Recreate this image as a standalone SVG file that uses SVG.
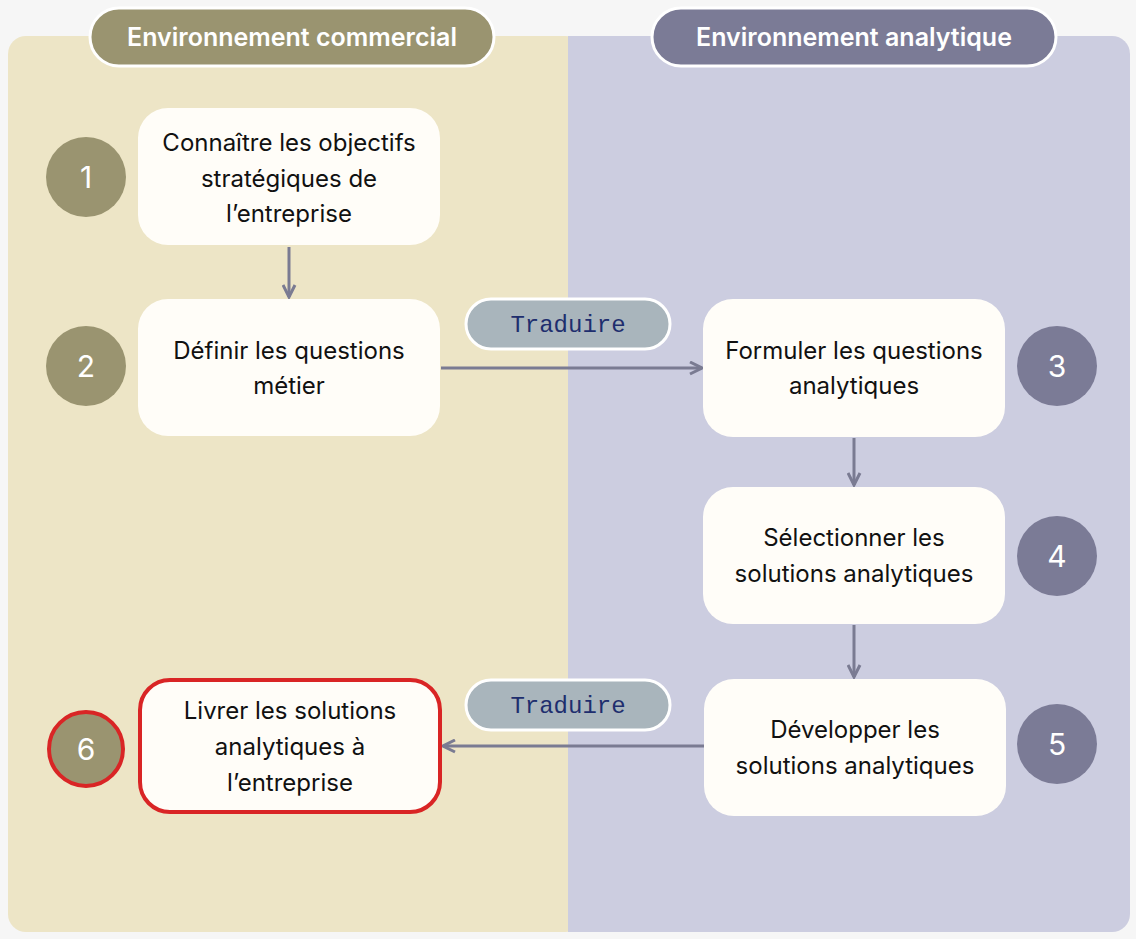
<svg xmlns="http://www.w3.org/2000/svg" width="1136" height="939" viewBox="0 0 1136 939">
<style>
.box{fill:#fffdf8}
.t{font-family:"Inter","Liberation Sans",sans-serif;font-size:24px;fill:#111;text-anchor:middle}
.h{font-family:"Inter","Liberation Sans",sans-serif;font-size:25px;font-weight:600;fill:#fff;text-anchor:middle}
.n{font-family:"Inter","Liberation Sans",sans-serif;font-size:30px;fill:#fff;text-anchor:middle}
.tr{fill:#a9b5bc;stroke:#fff;stroke-width:3}
.m{font-family:"Liberation Mono","DejaVu Sans Mono",monospace;font-size:24px;fill:#1e2e6e;text-anchor:middle}
.c{stroke:#7a7b92;stroke-width:3;fill:none;marker-end:url(#a)}
</style>
<defs><marker id="a" viewBox="0 0 10 10" refX="9" refY="5" markerWidth="5" markerHeight="5" orient="auto"><path d="M1 1L9 5L1 9" fill="none" stroke="#7a7b92" stroke-width="2"/></marker></defs>
<rect width="1136" height="939" fill="#f6f6f6"/>
<rect x="8" y="36" width="575" height="896" rx="18" fill="#ede5c6"/>
<rect x="568" y="36" width="562" height="896" rx="18" fill="#cccde0"/>
<rect x="568" y="36" width="20" height="896" fill="#cccde0"/>
<g id="hdr1"><rect x="90" y="8" width="404" height="58" rx="29" fill="#9a9470" stroke="#fff" stroke-width="3"/><text class="h" x="292" y="46">Environnement commercial</text></g>
<g id="hdr2"><rect x="652" y="8" width="404" height="58" rx="29" fill="#7b7b96" stroke="#fff" stroke-width="3"/><text class="h" x="854" y="46">Environnement analytique</text></g>
<g id="connectors">
<line class="c" x1="289" y1="247" x2="289" y2="297"/>
<line class="c" x1="441" y1="368" x2="702" y2="368"/>
<line class="c" x1="854" y1="438" x2="854" y2="485"/>
<line class="c" x1="854" y1="625" x2="854" y2="677"/>
<line class="c" x1="704" y1="746" x2="443" y2="746"/>
</g>
<g id="tr1"><rect class="tr" x="466" y="299" width="204" height="50" rx="25"/><text class="m" x="568" y="332">Traduire</text></g>
<g id="tr2"><rect class="tr" x="466" y="680" width="204" height="50" rx="25"/><text class="m" x="568" y="713">Traduire</text></g>
<g id="n1"><rect class="box" x="138" y="108" width="302" height="137" rx="30"/><text class="t" x="289" y="151">Connaître les objectifs</text><text class="t" x="289" y="187">stratégiques de</text><text class="t" x="289" y="222">l’entreprise</text><circle cx="86" cy="177" r="40" fill="#9a9470"/><text class="n" x="86" y="188">1</text></g>
<g id="n2"><rect class="box" x="138" y="299" width="302" height="137" rx="30"/><text class="t" x="289" y="359">Définir les questions</text><text class="t" x="289" y="394">métier</text><circle cx="86" cy="366" r="40" fill="#9a9470"/><text class="n" x="86" y="377">2</text></g>
<g id="n3"><rect class="box" x="703" y="299" width="302" height="138" rx="30"/><text class="t" x="854" y="359">Formuler les questions</text><text class="t" x="854" y="394">analytiques</text><circle cx="1057" cy="366" r="40" fill="#7b7b96"/><text class="n" x="1057" y="377">3</text></g>
<g id="n4"><rect class="box" x="703" y="487" width="302" height="137" rx="30"/><text class="t" x="854" y="546">Sélectionner les</text><text class="t" x="854" y="582">solutions analytiques</text><circle cx="1057" cy="556" r="40" fill="#7b7b96"/><text class="n" x="1057" y="567">4</text></g>
<g id="n5"><rect class="box" x="704" y="679" width="302" height="137" rx="30"/><text class="t" x="855" y="738">Développer les</text><text class="t" x="855" y="774">solutions analytiques</text><circle cx="1057" cy="744" r="40" fill="#7b7b96"/><text class="n" x="1057" y="755">5</text></g>
<g id="n6"><rect class="box" x="140" y="680" width="300" height="132" rx="30" stroke="#d92525" stroke-width="4"/><text class="t" x="290" y="719">Livrer les solutions</text><text class="t" x="290" y="755">analytiques à</text><text class="t" x="290" y="791">l’entreprise</text><circle cx="86" cy="749" r="37" fill="#9a9470" stroke="#d92525" stroke-width="4"/><text class="n" x="86" y="760">6</text></g>
</svg>
